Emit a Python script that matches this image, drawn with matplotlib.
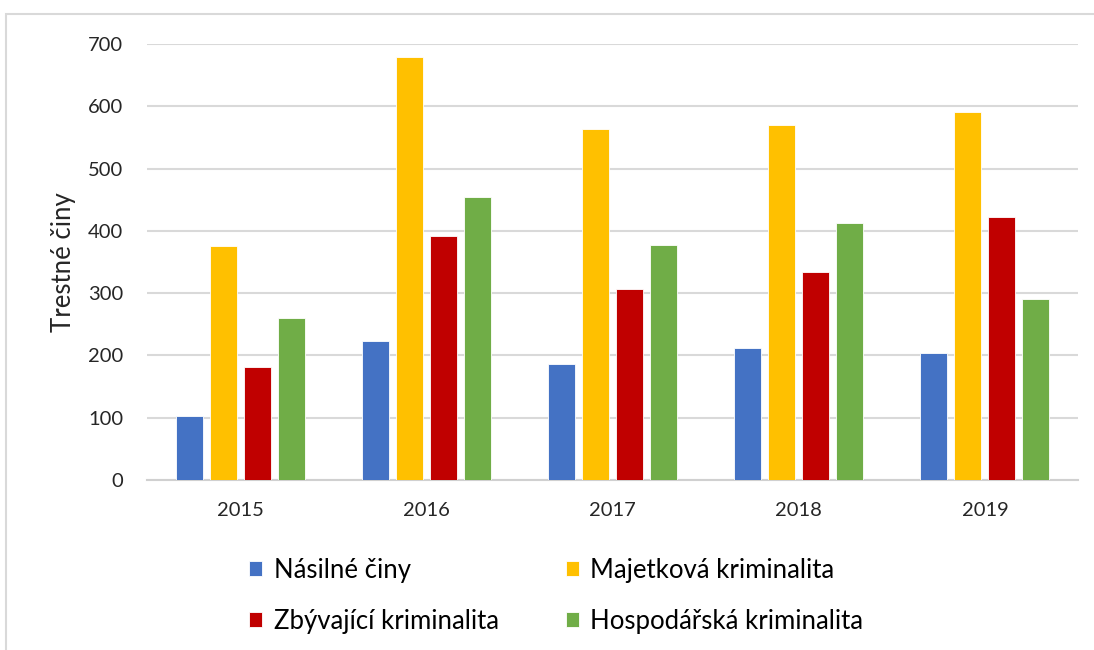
import matplotlib.pyplot as plt
import numpy as np
from matplotlib.patches import Rectangle

plt.rcParams['font.family'] = ['Lato', 'DejaVu Sans']

years = ["2015", "2016", "2017", "2018", "2019"]
nasilne = [103, 223, 186, 212, 204]
majetkova = [375, 679, 564, 570, 591]
zbyvajici = [181, 391, 307, 334, 423]
hospodarska = [260, 454, 377, 412, 291]

series = [
    ("Násilné činy", nasilne, "#4472C4"),
    ("Majetková kriminalita", majetkova, "#FFC000"),
    ("Zbývající kriminalita", zbyvajici, "#C00000"),
    ("Hospodářská kriminalita", hospodarska, "#70AD47"),
]

fig = plt.figure(figsize=(10.94, 6.5), dpi=100)
ax = fig.add_axes([147 / 1094, 170 / 650, 931 / 1094, 436 / 650])

# outer chart frame (cut off at right and bottom like the screenshot)
fig.patches.append(Rectangle((6 / 1094, -0.5), 1.2, 0.5 + 636 / 650, transform=fig.transFigure,
                             fill=False, edgecolor="#d9d9d9", linewidth=1.5))

x = np.arange(len(years))
pitch = 0.1825
width = 0.145
bars = []
for i, (name, vals, color) in enumerate(series):
    b = ax.bar(x + (i - 1.5) * pitch, vals, width, color=color,
               edgecolor="white", linewidth=0.6, label=name, zorder=3)
    bars.append(b)

ax.set_xlim(-0.5, len(years) - 0.5)
ax.set_ylim(0, 700)
ax.set_yticks(range(0, 701, 100))
ax.set_xticks(x)
ax.set_xticklabels(years)
ax.tick_params(length=0, labelsize=14.5, colors="#262626")
ax.tick_params(axis="x", pad=16)
ax.tick_params(axis="y", pad=17)
ax.grid(axis="y", color="#d9d9d9", linewidth=1.5, zorder=0)
for s in ["top", "right", "left"]:
    ax.spines[s].set_visible(False)
ax.spines["bottom"].set_color("#d0d0d0")
ax.spines["bottom"].set_linewidth(1.5)
ax.set_ylabel("Trestné činy", fontsize=18.5, color="#262626", labelpad=9)

order = [0, 2, 1, 3]
fig.legend([bars[k] for k in order], [series[k][0] for k in order],
           ncol=2, frameon=False, loc="upper left",
           bbox_to_anchor=(236 / 1094, 1 - 545 / 650), borderpad=0,
           fontsize=18.5, handlelength=0.52, handleheight=0.52,
           handletextpad=0.45, columnspacing=2.6, labelspacing=1.0)

plt.savefig("out.png", dpi=100)
